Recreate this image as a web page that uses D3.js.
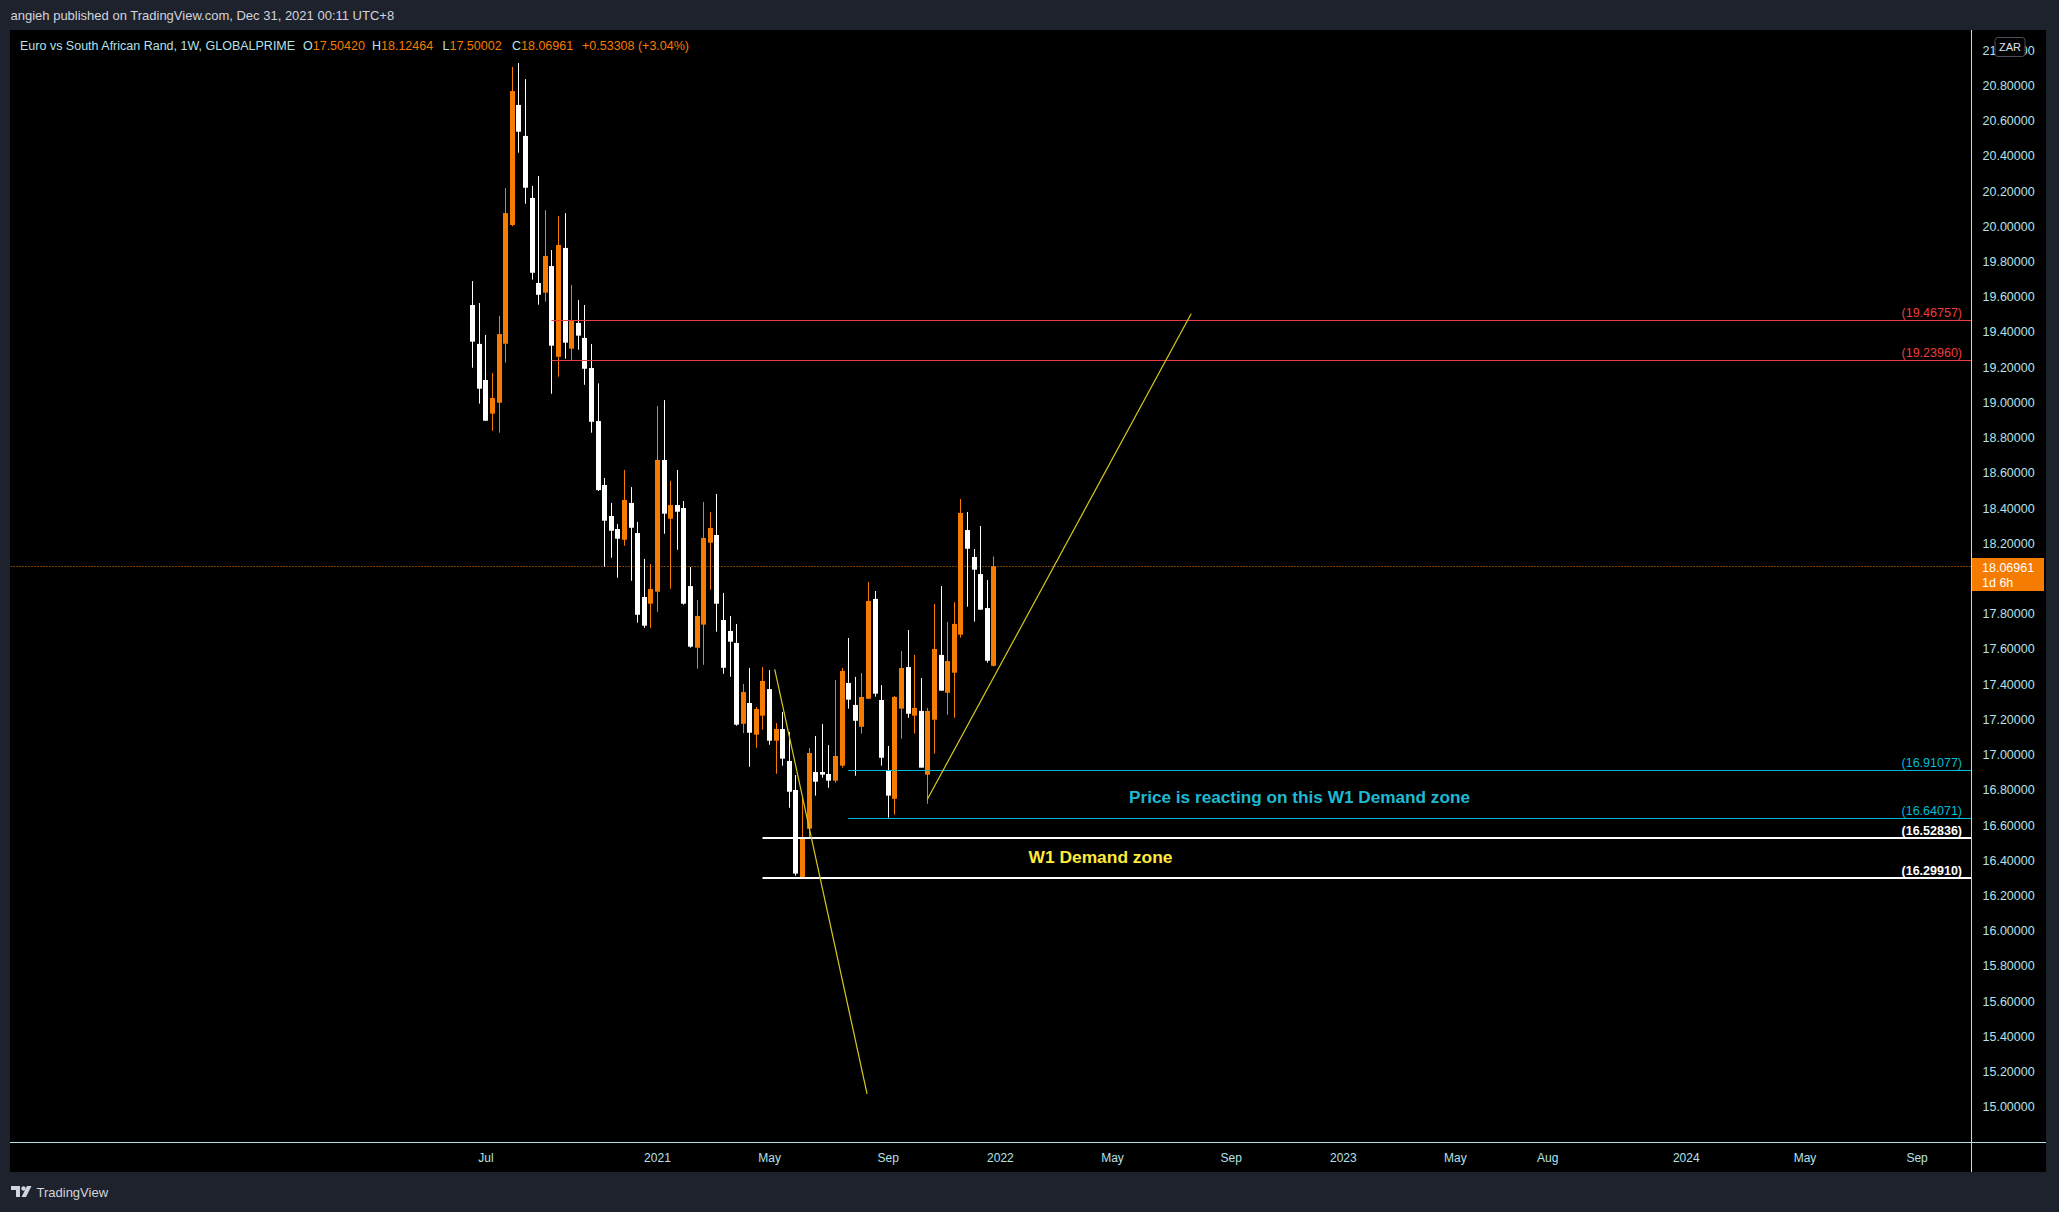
<!DOCTYPE html>
<html><head><meta charset="utf-8">
<script src="https://cdn.jsdelivr.net/npm/d3@7"></script>
<style>html,body{margin:0;padding:0;background:#1e222d;overflow:hidden}</style>
</head><body><svg id="c" width="2059" height="1212"></svg>
<script>
// ---- data ----
const weeks = ["2020-06-22","2020-06-29","2020-07-06","2020-07-13","2020-07-20","2020-07-27","2020-08-03","2020-08-10","2020-08-17","2020-08-24","2020-08-31","2020-09-07","2020-09-14","2020-09-21","2020-09-28","2020-10-05","2020-10-12","2020-10-19","2020-10-26","2020-11-02","2020-11-09","2020-11-16","2020-11-23","2020-11-30","2020-12-07","2020-12-14","2020-12-21","2020-12-28","2021-01-04","2021-01-11","2021-01-18","2021-01-25","2021-02-01","2021-02-08","2021-02-15","2021-02-22","2021-03-01","2021-03-08","2021-03-15","2021-03-22","2021-03-29","2021-04-05","2021-04-12","2021-04-19","2021-04-26","2021-05-03","2021-05-10","2021-05-17","2021-05-24","2021-05-31","2021-06-07","2021-06-14","2021-06-21","2021-06-28","2021-07-05","2021-07-12","2021-07-19","2021-07-26","2021-08-02","2021-08-09","2021-08-16","2021-08-23","2021-08-30","2021-09-06","2021-09-13","2021-09-20","2021-09-27","2021-10-04","2021-10-11","2021-10-18","2021-10-25","2021-11-01","2021-11-08","2021-11-15","2021-11-22","2021-11-29","2021-12-06","2021-12-13","2021-12-20","2021-12-27"];
const opens = [19.553,19.332,19.127,18.936,18.998,19.333,20.007,20.689,20.513,20.161,19.678,19.623,19.774,19.259,19.877,19.305,19.451,19.366,19.195,18.894,18.531,18.355,18.281,18.220,18.429,18.258,17.895,17.857,17.925,18.673,18.339,18.417,18.400,17.957,17.607,17.738,18.203,18.247,17.764,17.702,17.634,17.175,17.293,17.113,17.221,17.372,17.079,17.145,16.964,16.799,16.295,16.579,16.901,16.901,16.890,16.852,16.937,17.407,17.282,17.158,17.317,17.884,17.310,16.907,16.749,17.261,17.497,17.221,17.248,16.886,17.198,17.566,17.351,17.465,17.681,18.275,18.122,18.025,17.832,17.50420];
const highs = [19.689,19.564,19.383,19.167,19.491,20.217,20.905,20.927,20.836,20.229,20.286,20.092,19.865,20.058,20.075,19.667,19.581,19.553,19.332,19.108,18.571,18.429,18.309,18.616,18.519,18.321,18.111,18.082,18.979,19.013,18.554,18.616,18.440,18.065,17.878,18.434,18.378,18.480,17.918,17.787,17.742,17.401,17.492,17.270,17.497,17.480,17.179,17.242,17.128,16.884,16.761,17.037,17.106,17.174,17.054,17.424,17.492,17.662,17.441,17.463,17.980,17.929,17.395,17.049,17.333,17.588,17.707,17.566,17.435,17.265,17.855,17.957,17.753,17.866,18.451,18.378,18.167,18.298,17.991,18.12464];
const lows = [19.197,18.993,18.894,18.839,18.828,19.225,20.000,20.418,20.128,19.697,19.555,19.572,19.049,19.146,19.248,19.239,19.299,19.100,18.828,18.497,18.067,18.118,18.004,18.186,17.987,17.749,17.720,17.720,17.811,18.254,17.942,18.163,17.851,17.607,17.488,17.510,17.936,17.698,17.459,17.442,17.164,17.122,16.931,17.039,17.141,17.056,16.891,16.937,16.698,16.312,16.295,16.528,16.767,16.869,16.812,16.840,16.926,17.261,16.880,17.119,17.317,17.329,16.937,16.642,16.659,17.090,17.209,17.119,16.926,16.721,17.005,17.363,17.226,17.209,17.664,17.840,17.755,17.823,17.522,17.50002];
const closes = [19.345,19.078,18.896,19.025,19.388,20.075,20.768,20.537,20.219,19.736,19.611,19.831,19.322,19.894,19.339,19.466,19.379,19.191,18.890,18.502,18.328,18.271,18.226,18.446,18.288,17.794,17.732,17.940,18.673,18.368,18.417,18.379,17.857,17.613,17.787,18.230,18.287,17.857,17.493,17.641,17.170,17.355,17.124,17.259,17.418,17.079,17.145,16.977,16.789,16.324,16.526,17.009,16.846,16.886,16.852,16.992,17.475,17.312,17.192,17.327,17.872,17.346,16.982,16.767,17.327,17.492,17.232,17.265,16.926,17.248,17.600,17.363,17.531,17.742,18.372,18.169,18.050,17.823,17.533,18.06961];

const timeTickDates = ["2020-07-06","2021-01-04","2021-05-03","2021-09-06","2022-01-03","2022-05-02","2022-09-05","2023-01-02","2023-05-01","2023-08-07","2024-01-01","2024-05-06","2024-09-02"];
const timeTickLabels = ["Jul","2021","May","Sep","2022","May","Sep","2023","May","Aug","2024","May","Sep"];

const levelPrices = [19.46757, 19.23960, 16.91077, 16.64071, 16.52836, 16.29910];
const levelStarts = ["2020-09-14","2020-09-14","2021-07-26","2021-07-26","2021-04-26","2021-04-26"];
const levelKinds = ["red","red","cyan","cyan","white","white"];

const trendStartDates = ["2021-05-09","2021-10-18"];
const trendStartPrices = [17.484, 16.746];
const trendEndDates = ["2021-08-15","2022-07-25"];
const trendEndPrices = [15.074, 19.503];

const lastPrice = 18.06961;
const legendTitle = "Euro vs South African Rand, 1W, GLOBALPRIME";
const legendKeys = ["O","H","L","C"];
const legendVals = ["17.50420","18.12464","17.50002","18.06961"];
const legendChange = "+0.53308 (+3.04%)";

// ---- drawing ----
const parse = d3.utcParse("%Y-%m-%d");
const svg = d3.select("#c");
const W = 2059, H = 1212;
const ORANGE = "#f57c00", AXC = "#b6e1e8";
const FONT = "'Liberation Sans', Arial, sans-serif";

const paneL = 10.5, paneR = 1971.5, paneT = 30, paneB = 1143;
const x = d3.scaleUtc().domain([parse(weeks[0]), parse(weeks[weeks.length-1])]).range([472.3, 993.3]);
const y = d3.scaleLinear().domain([15, 20.8]).range([1106.8, 85.4]);

svg.append("rect").attr("width", W).attr("height", H).attr("fill", "#1e222d");
svg.append("rect").attr("x", 10).attr("y", 30).attr("width", 2036).attr("height", 1142).attr("fill", "#000");

// header
svg.append("text").attr("x", 10.5).attr("y", 20).attr("fill", "#d1d4dc")
  .style("font", `13px ${FONT}`).text("angieh published on TradingView.com, Dec 31, 2021 00:11 UTC+8");

// clip
svg.append("clipPath").attr("id", "pane").append("rect")
  .attr("x", paneL).attr("y", paneT).attr("width", paneR - paneL).attr("height", paneB - paneT);
const g = svg.append("g").attr("clip-path", "url(#pane)");

// last price dotted line
g.append("line").attr("x1", paneL).attr("x2", paneR)
  .attr("y1", Math.round(y(lastPrice)) + 0.5).attr("y2", Math.round(y(lastPrice)) + 0.5)
  .attr("stroke", ORANGE).attr("stroke-width", 1).attr("stroke-dasharray", "1,2");

// candles
const candles = weeks.map((w, i) => ({d: parse(w), o: opens[i], h: highs[i], l: lows[i], c: closes[i]}));
const cg = g.append("g");
cg.selectAll("rect.wick").data(candles).join("rect").attr("class", "wick")
  .attr("x", d => Math.round(x(d.d)))
  .attr("width", 1)
  .attr("y", d => y(d.h))
  .attr("height", d => Math.max(1, y(d.l) - y(d.h)))
  .attr("fill", d => d.c >= d.o ? ORANGE : "#ffffff");
cg.selectAll("rect.body").data(candles).join("rect").attr("class", "body")
  .attr("x", d => Math.round(x(d.d)) - 2)
  .attr("width", 5)
  .attr("y", d => y(Math.max(d.o, d.c)))
  .attr("height", d => Math.max(1, Math.abs(y(d.o) - y(d.c))))
  .attr("fill", d => d.c >= d.o ? ORANGE : "#ffffff");

// horizontal levels
const kindColor = {red: "#ef3b3b", cyan: "#00bcd4", white: "#ffffff"};
const kindWidth = {red: 1, cyan: 1, white: 2};
levelPrices.forEach((p, i) => {
  const k = levelKinds[i];
  const yy = k === "white" ? Math.round(y(p)) : Math.round(y(p)) + 0.5;
  g.append("line").attr("x1", x(parse(levelStarts[i]))).attr("x2", paneR)
    .attr("y1", yy).attr("y2", yy)
    .attr("stroke", kindColor[k]).attr("stroke-width", kindWidth[k]);
  g.append("text").attr("x", 1962).attr("y", yy - 3.5).attr("text-anchor", "end")
    .attr("fill", kindColor[k]).style("font", `${k === "white" ? "bold " : ""}12.5px ${FONT}`)
    .text(`(${p.toFixed(5)})`);
});

// trend lines
trendStartDates.forEach((sd, i) => {
  g.append("line")
    .attr("x1", x(parse(sd))).attr("y1", y(trendStartPrices[i]))
    .attr("x2", x(parse(trendEndDates[i]))).attr("y2", y(trendEndPrices[i]))
    .attr("stroke", "#d8c81e").attr("stroke-width", 1.2);
});

// annotations
g.append("text").attr("x", 1299.5).attr("y", 803).attr("text-anchor", "middle")
  .attr("fill", "#1fb8d3").style("font", `bold 17.2px ${FONT}`)
  .text("Price is reacting on this W1 Demand zone");
g.append("text").attr("x", 1100.5).attr("y", 863).attr("text-anchor", "middle")
  .attr("fill", "#ffeb3b").style("font", `bold 17.4px ${FONT}`)
  .text("W1 Demand zone");

// axes lines
svg.append("line").attr("x1", 10).attr("x2", 2046).attr("y1", paneB - 0.5).attr("y2", paneB - 0.5)
  .attr("stroke", AXC).attr("stroke-width", 1);
svg.append("line").attr("x1", paneR).attr("x2", paneR).attr("y1", 30).attr("y2", 1172)
  .attr("stroke", AXC).attr("stroke-width", 1);

// price axis (ticks hidden under the last-price label are not drawn, as in the reference)
const boxTop = 558, boxBot = 591;
const priceTicks = d3.range(15, 21.01, 0.2).filter(v => y(v) < boxTop - 6 || y(v) > boxBot + 6);
const yAxis = d3.axisRight(y).tickValues(priceTicks)
  .tickFormat(d3.format(".5f")).tickSize(0).tickPadding(11);
const ya = svg.append("g").attr("transform", `translate(${paneR},0)`).call(yAxis);
ya.select(".domain").remove();
ya.selectAll("text").attr("fill", AXC).style("font", `12.5px ${FONT}`);

// time axis
const tDates = timeTickDates.map(parse);
const xAxis = d3.axisBottom(x).tickValues(tDates)
  .tickFormat((d, i) => timeTickLabels[i]).tickSize(0).tickPadding(10);
const xa = svg.append("g").attr("transform", `translate(0,${paneB})`).call(xAxis);
xa.select(".domain").remove();
xa.selectAll("text").attr("fill", AXC).style("font", `12px ${FONT}`);

// last price label
svg.append("rect").attr("x", 1972).attr("y", boxTop).attr("width", 72).attr("height", boxBot - boxTop).attr("fill", ORANGE);
svg.append("text").attr("x", 1982).attr("y", 571.5).attr("fill", "#fff").style("font", `12.5px ${FONT}`).text(lastPrice.toFixed(5));
svg.append("text").attr("x", 1982).attr("y", 586.5).attr("fill", "#fff").style("font", `12.5px ${FONT}`).text("1d 6h");

// ZAR badge
svg.append("rect").attr("x", 1995).attr("y", 37.5).attr("width", 30).attr("height", 19).attr("rx", 3)
  .attr("fill", "#000").attr("stroke", "#4a4e5a");
svg.append("text").attr("x", 2010).attr("y", 51).attr("text-anchor", "middle").attr("fill", "#e0e3eb")
  .style("font", `11px ${FONT}`).text("ZAR");

// legend
const lg = svg.append("text").attr("x", 20).attr("y", 50).style("font", `12.5px ${FONT}`);
lg.append("tspan").attr("fill", AXC).text(legendTitle);
const legendX = [303, 372, 442.5, 512];
legendKeys.forEach((k, i) => {
  lg.append("tspan").attr("x", legendX[i]).attr("fill", AXC).text(k);
  lg.append("tspan").attr("fill", ORANGE).text(legendVals[i]);
});
lg.append("tspan").attr("x", 582).attr("fill", ORANGE).text(legendChange);

// footer logo
const fg = svg.append("g").attr("fill", "#d1d4dc");
fg.append("path").attr("d", "M11,1186 h9 v11 h-4 v-7 h-5 z");
fg.append("circle").attr("cx", 23.5).attr("cy", 1188.5).attr("r", 2.2);
fg.append("path").attr("d", "M27,1186 h4.5 l-5.5,11 h-4.5 z");
svg.append("text").attr("x", 36.5).attr("y", 1197).attr("fill", "#d1d4dc")
  .style("font", `13px ${FONT}`).text("TradingView");
</script>
</body></html>
